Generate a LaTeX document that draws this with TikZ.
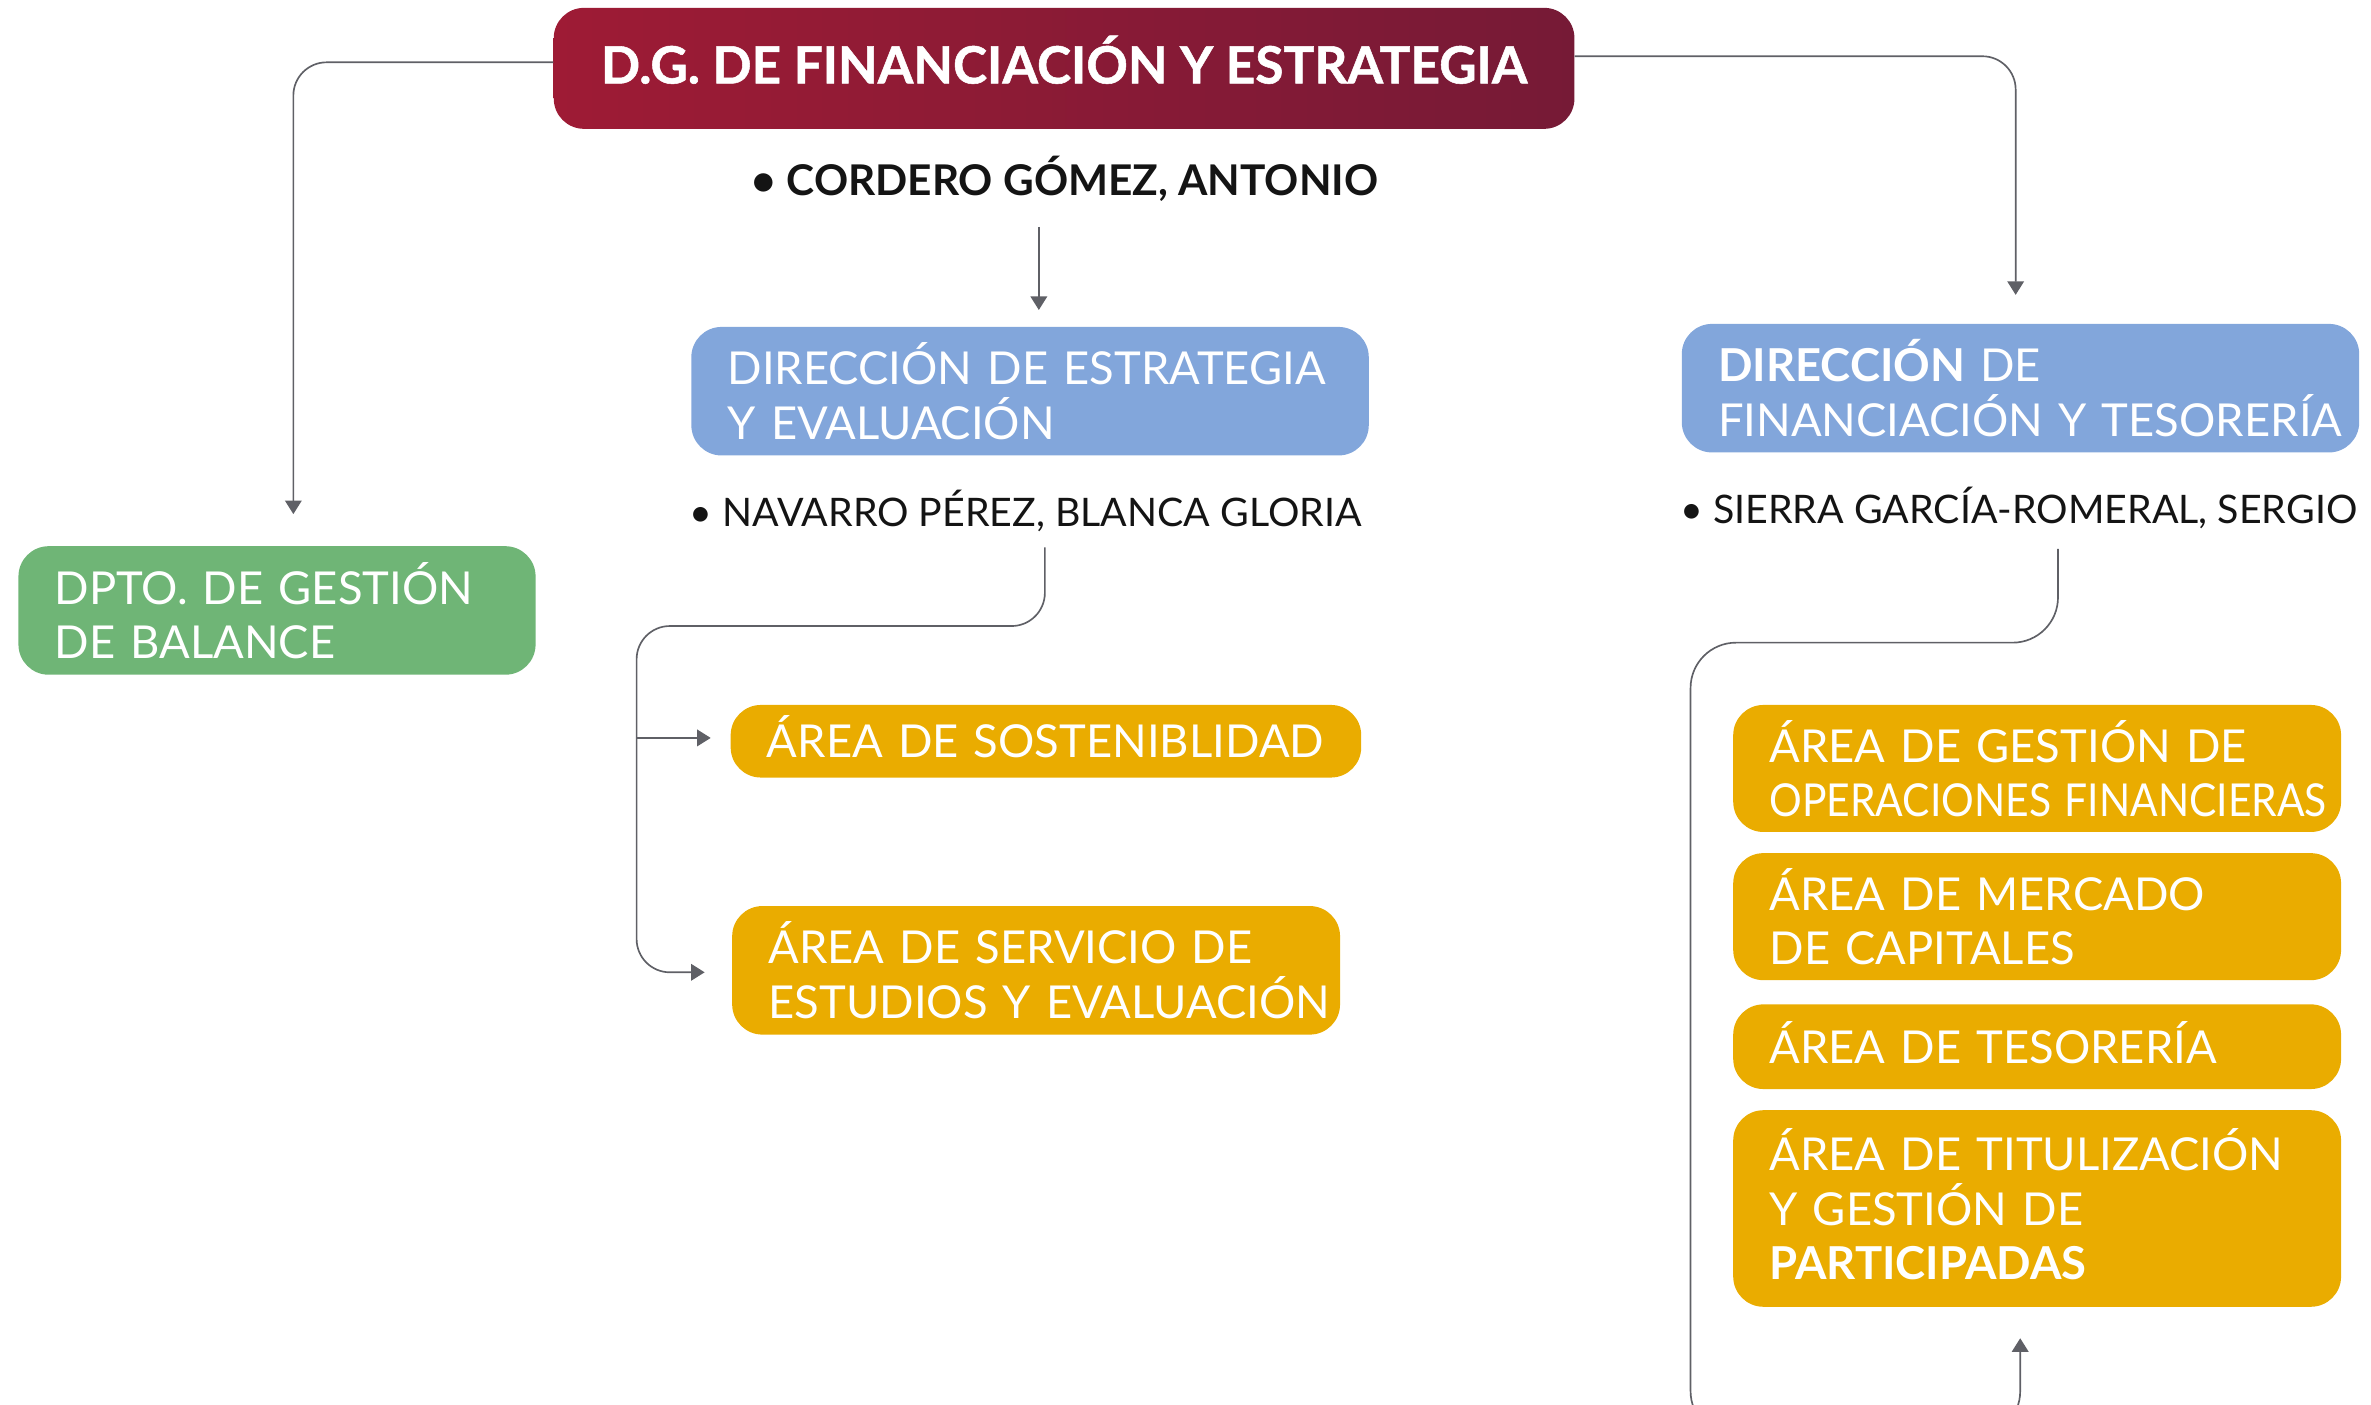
\documentclass[tikz,border=0pt]{standalone}
\usepackage{fontspec}
\usepackage{graphicx}
\setmainfont{Lato}
\usetikzlibrary{arrows.meta}
\definecolor{dgA}{HTML}{9E1B35}
\definecolor{dgB}{HTML}{761A36}
\definecolor{azul}{HTML}{82A6DB}
\definecolor{ambar}{HTML}{EAAC00}
\definecolor{verde}{HTML}{6FB576}
\definecolor{gris}{HTML}{5F6066}
\definecolor{tinta}{HTML}{141414}
\begin{document}
\begin{tikzpicture}[x=1pt,y=-1pt,
  caja/.style={rounded corners=20pt, text=white, align=left, anchor=north west,
    inner xsep=24pt, inner ysep=0pt, font=\fontsize{30}{36}\selectfont},
  unalinea/.style={text height=22pt, text depth=0pt},
  nombre/.style={anchor=west, inner sep=0pt, text=tinta},
  conn/.style={draw=gris, line width=1.1pt, rounded corners=22pt},
  flecha/.style={-{Triangle[width=11pt,length=9pt]}}
]
\useasboundingbox (0,0) rectangle (1568,929);
\clip (0,0) rectangle (1568,929);

% main box
\node[rounded corners=20pt, left color=dgA, right color=dgB, text=white,
  anchor=north west, minimum width=675pt, minimum height=80pt, inner sep=0pt,
  text height=25pt, text depth=5pt,
  font=\fontsize{34}{40}\selectfont\bfseries\addfontfeature{FakeBold=1}] (dg) at (366,5) {D.G. DE FINANCIACIÓN Y ESTRATEGIA};

\node[nombre, font=\fontsize{28}{32}\selectfont\bfseries] (cordero) at (497,118) {• CORDERO GÓMEZ, ANTONIO};

% blue boxes
\node[caja, fill=azul, minimum width=448pt, minimum height=85pt, text width=400pt] (estr) at (457,216)
  {\mbox{DIRECCIÓN DE ESTRATEGIA}\\\mbox{Y EVALUACIÓN}};
\node[caja, fill=azul, minimum width=448pt, minimum height=85pt, text width=400pt] (fin) at (1112,214)
  {\mbox{\textbf{DIRECCIÓN} DE}\\\mbox{FINANCIACIÓN Y TESORERÍA}};

\node[nombre, font=\fontsize{26}{30}\selectfont] (navarro) at (456,338) {• NAVARRO PÉREZ, BLANCA GLORIA};
\node[nombre, font=\fontsize{26}{30}\selectfont] (sierra) at (1111,336) {• SIERRA GARCÍA-ROMERAL, SERGIO};

% green box
\node[caja, fill=verde, minimum width=342pt, minimum height=85pt, text width=294pt] (bal) at (12,361)
  {\mbox{DPTO. DE GESTIÓN}\\\mbox{DE BALANCE}};

% yellow boxes (centre)
\node[caja, unalinea, fill=ambar, minimum width=417pt, minimum height=48pt, text width=369pt] (sost) at (483,466)
  {\mbox{ÁREA DE SOSTENIBLIDAD}};
\node[caja, fill=ambar, minimum width=402pt, minimum height=85pt, text width=354pt] (serv) at (484,599)
  {\mbox{ÁREA DE SERVICIO DE}\\\mbox{ESTUDIOS Y EVALUACIÓN}};

% yellow boxes (right)
\node[caja, fill=ambar, minimum width=402pt, minimum height=84pt, text width=354pt] (opf) at (1146,466)
  {\mbox{ÁREA DE GESTIÓN DE}\\\mbox{\scalebox{0.9}[1]{OPERACIONES FINANCIERAS}}};
\node[caja, fill=ambar, minimum width=402pt, minimum height=84pt, text width=354pt] (merc) at (1146,564)
  {\mbox{ÁREA DE MERCADO}\\\mbox{DE CAPITALES}};
\node[caja, unalinea, fill=ambar, minimum width=402pt, minimum height=56pt, text width=354pt] (tes) at (1146,664)
  {\mbox{ÁREA DE TESORERÍA}};
\node[caja, fill=ambar, minimum width=402pt, minimum height=130pt, text width=354pt,
  text height=22pt, text depth=72pt] (tit) at (1146,734)
  {\mbox{ÁREA DE TITULIZACIÓN}\\\mbox{Y GESTIÓN DE}\\\mbox{\textbf{PARTICIPADAS}}};

% connector points
\coordinate (balin) at (194,340);
\coordinate (finin) at (1333,195);
\coordinate (c1) at (687,150);
\coordinate (estrin) at (687,205);
\coordinate (navout) at (691,362);
\coordinate (sostin) at (470,488);
\coordinate (servin) at (466,643);
\coordinate (sieout) at (1361,363);
\coordinate (titin) at (1336,885);

% connectors
\draw[conn, flecha] ([yshift=4pt]dg.west) -| (balin);
\draw[conn, flecha] ([yshift=8pt]dg.east) -| (finin);
\draw[conn, flecha] (c1) -- (estrin);
\draw[conn, flecha] (navout) -- (691,414) -- (421,414) -- (421,643) -- (servin);
\draw[conn, flecha, rounded corners=0pt] (421,488) -- (sostin);
\draw[conn, flecha, rounded corners=30pt] (sieout) -- (1361,425) -- (1118,425) -- (1118,950) -- (1336,950) -- (titin);
\end{tikzpicture}
\end{document}
